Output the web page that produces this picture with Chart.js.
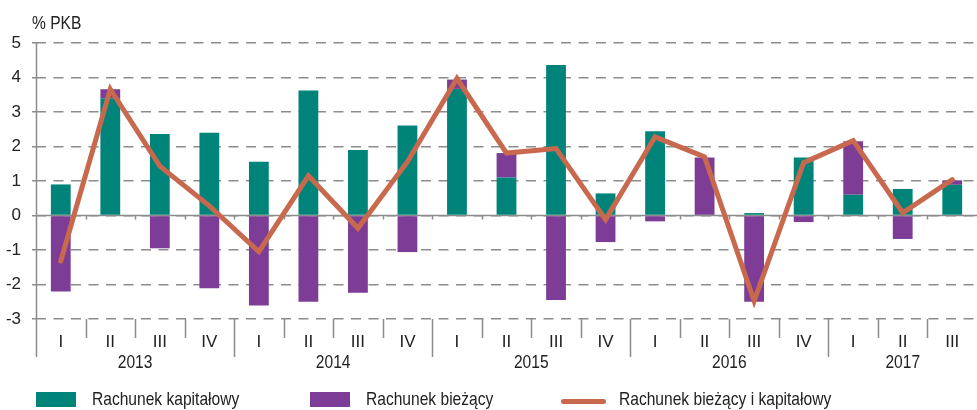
<!DOCTYPE html>
<html>
<head>
<meta charset="utf-8">
<script src="https://cdn.jsdelivr.net/npm/chart.js@4.4.1/dist/chart.umd.min.js"></script>
<style>
  html, body { margin: 0; padding: 0; background: #fff; }
  #wrap { position: relative; width: 977px; height: 410px; overflow: hidden; }
  canvas { position: absolute; left: 0; top: 0; }
  .lg { position: absolute; font-family: 'Liberation Sans', Arial, sans-serif; font-size: 19px; color: #222; line-height: 19px; white-space: nowrap; transform: scaleX(0.82); transform-origin: 0 0; }
  .sw { position: absolute; }
</style>
</head>
<body>
<div id="wrap">
  <canvas id="c" width="977" height="410"></canvas>
  <div class="sw" style="left:36px;top:392px;width:40px;height:15px;background:#00847A"></div>
  <div class="lg" style="left:92px;top:389px">Rachunek kapitałowy</div>
  <div class="sw" style="left:310px;top:392px;width:40px;height:15px;background:#7D3C96"></div>
  <div class="lg" style="left:366px;top:389px">Rachunek bieżący</div>
  <div class="sw" style="left:561px;top:399px;width:45px;height:5px;border-radius:3px;background:#C8694E"></div>
  <div class="lg" style="left:619px;top:389px">Rachunek bieżący i kapitałowy</div>
</div>
<script>
const quarters = ["I","II","III","IV","I","II","III","IV","I","II","III","IV","I","II","III","IV","I","II","III"];
const years = ["2013","2014","2015","2016","2017"];
const yearStartIndex = [0, 4, 8, 12, 16];
const capitalAccount = [0.90, 3.40, 2.36, 2.40, 1.56, 3.62, 1.90, 2.61, 3.67, 1.10, 4.36, 0.64, 2.44, 0.02, 0.07, 1.68, 0.60, 0.77, 0.89];
const currentAccount = [-2.20, 0.26, -0.95, -2.11, -2.61, -2.50, -2.24, -1.06, 0.27, 0.71, -2.45, -0.77, -0.17, 1.66, -2.50, -0.19, 1.55, -0.68, 0.13];
const combinedAccount = [-1.32, 3.66, 1.43, 0.28, -1.05, 1.15, -0.37, 1.56, 3.97, 1.81, 1.94, -0.12, 2.28, 1.70, -2.48, 1.53, 2.17, 0.08, 1.04];
const yTicks = { min: -3, max: 5, step: 1 };

const FONT = "'Liberation Sans', Arial, sans-serif";
const NARROW = 0.82;
const GRID = '#8c8c8c';
const TXT = '#222';

function narrowText(ctx, text, x, y) {
  ctx.save();
  ctx.scale(NARROW, 1);
  ctx.fillText(text, x / NARROW, y);
  ctx.restore();
}

const decor = {
  id: 'decor',
  beforeDatasetsDraw(chart) {
    const { ctx, chartArea: a, scales: { x, y } } = chart;
    const half = (x.getPixelForValue(1) - x.getPixelForValue(0)) / 2;
    const y0 = y.getPixelForValue(0);
    ctx.save();
    ctx.strokeStyle = GRID;
    ctx.lineWidth = 1.5;
    ctx.setLineDash([]);
    ctx.beginPath();
    ctx.moveTo(a.left, y0); ctx.lineTo(a.right, y0);
    for (let i = 1; i < quarters.length; i++) {
      const bx = Math.round(x.getPixelForValue(i) - half) + 0.5;
      ctx.moveTo(bx, y0); ctx.lineTo(bx, y0 + 4);
    }
    ctx.stroke();
    ctx.restore();
  },
  afterDraw(chart) {
    const { ctx, chartArea: a, scales: { x, y } } = chart;
    const half = (x.getPixelForValue(1) - x.getPixelForValue(0)) / 2;
    ctx.save();
    ctx.strokeStyle = GRID;
    ctx.lineWidth = 1.5;
    ctx.beginPath();
    ctx.moveTo(Math.round(a.left) + 0.5, a.top);
    ctx.lineTo(Math.round(a.left) + 0.5, a.bottom + 38);
    for (let i = 1; i < quarters.length; i++) {
      const bx = Math.round(x.getPixelForValue(i) - half) + 0.5;
      const long = yearStartIndex.includes(i);
      ctx.moveTo(bx, a.bottom);
      ctx.lineTo(bx, a.bottom + (long ? 38 : 19));
    }
    ctx.stroke();
    ctx.fillStyle = TXT;
    ctx.font = "19px " + FONT;
    ctx.textAlign = 'center';
    ctx.textBaseline = 'middle';
    years.forEach((yr, k) => {
      const s = yearStartIndex[k];
      const e = k + 1 < yearStartIndex.length ? yearStartIndex[k + 1] - 1 : quarters.length - 1;
      const cx = (x.getPixelForValue(s) + x.getPixelForValue(e)) / 2;
      narrowText(ctx, yr, cx, a.bottom + 44);
    });
    ctx.textAlign = 'left';
    ctx.textBaseline = 'alphabetic';
    narrowText(ctx, '% PKB', a.left - 4, 28.5);
    ctx.restore();
  }
};

new Chart(document.getElementById('c'), {
  type: 'bar',
  data: {
    labels: quarters,
    datasets: [
      { label: 'Rachunek kapitałowy', data: capitalAccount, backgroundColor: '#00847A', stack: 'bars', order: 1,
        categoryPercentage: 1, barPercentage: 0.4 },
      { label: 'Rachunek bieżący', data: currentAccount, backgroundColor: '#7D3C96', stack: 'bars', order: 1,
        categoryPercentage: 1, barPercentage: 0.4 },
      { type: 'line', label: 'Rachunek bieżący i kapitałowy', data: combinedAccount, stack: 'line', order: 0,
        borderColor: '#C8694E', backgroundColor: '#C8694E', borderWidth: 5, pointRadius: 0, tension: 0,
        borderCapStyle: 'round', borderJoinStyle: 'miter', fill: false }
    ]
  },
  options: {
    responsive: false,
    animation: false,
    layout: { padding: { top: 43, right: 0, bottom: 0, left: 0 } },
    plugins: { legend: { display: false }, tooltip: { enabled: false } },
    scales: {
      x: {
        stacked: true,
        offset: true,
        grid: { display: false, drawTicks: false },
        border: { display: false },
        ticks: { color: TXT, font: { family: FONT, size: 17 }, padding: 13, maxRotation: 0, autoSkip: false },
        afterFit: s => { s.height = 91; }
      },
      y: {
        stacked: true,
        min: yTicks.min, max: yTicks.max,
        ticks: { stepSize: yTicks.step, color: TXT, font: { family: FONT, size: 17 }, padding: 11 },
        grid: { color: GRID, lineWidth: 1.5, tickLength: 4, tickColor: GRID, tickBorderDash: [] },
        border: { display: false, dash: [10, 7.5] },
        afterFit: s => { s.width = 36; }
      }
    }
  },
  plugins: [decor]
});
</script>
</body>
</html>
